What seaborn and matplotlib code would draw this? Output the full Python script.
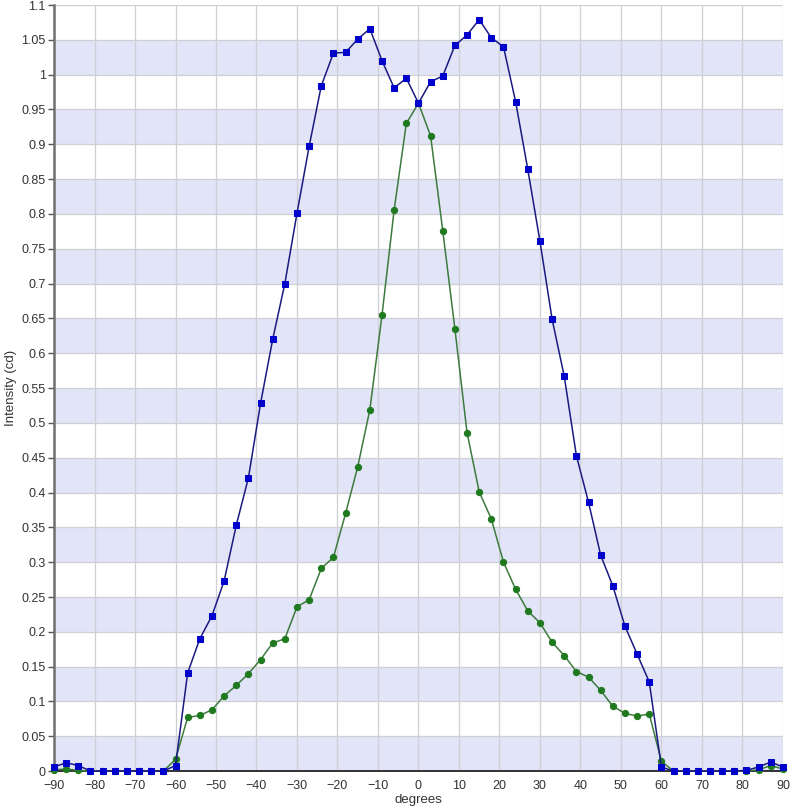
import numpy as np
import pandas as pd
import seaborn as sns
import matplotlib.pyplot as plt

sns.set_style("white")
plt.rcParams['font.family'] = ['Liberation Sans', 'DejaVu Sans']

# angles in degrees, 3 degree steps
degrees = list(range(-90, 91, 3))

blue_vals = [0.006, 0.012, 0.008, 0, 0, 0, 0, 0, 0, 0,
             0.008, 0.141, 0.190, 0.223, 0.273, 0.353, 0.421, 0.528, 0.620, 0.700,
             0.801, 0.897, 0.984, 1.031, 1.032, 1.051, 1.066, 1.020, 0.981, 0.995,
             0.959,
             0.990, 0.998, 1.042, 1.057, 1.079, 1.053, 1.040, 0.961, 0.864, 0.761,
             0.649, 0.567, 0.453, 0.386, 0.310, 0.266, 0.208, 0.168, 0.128, 0.006,
             0, 0, 0, 0, 0, 0, 0.001, 0.006, 0.013, 0.006]

green_vals = [0.002, 0.003, 0.001, 0, 0, 0, 0, 0, 0, 0,
              0.017, 0.077, 0.080, 0.088, 0.108, 0.123, 0.140, 0.160, 0.184, 0.190,
              0.236, 0.246, 0.291, 0.307, 0.370, 0.437, 0.519, 0.655, 0.806, 0.930,
              0.959,
              0.912, 0.776, 0.635, 0.486, 0.401, 0.362, 0.300, 0.261, 0.230, 0.213,
              0.185, 0.166, 0.143, 0.135, 0.116, 0.093, 0.083, 0.079, 0.082, 0.014,
              0, 0, 0, 0, 0, 0, 0, 0.002, 0.008, 0.003]

df = pd.DataFrame({"degrees": degrees, "blue": blue_vals, "green": green_vals})

fig = plt.figure(figsize=(7.9, 8.1), dpi=100)
ax = fig.add_axes([0.0684, 0.048, 0.9226, 0.9458])

# alternating background bands
for y0 in np.arange(0, 1.1, 0.1):
    ax.axhspan(y0, y0 + 0.05, color="#e2e4f8", zorder=0, lw=0)

sns.lineplot(data=df, x="degrees", y="green", ax=ax, color="#3d7a3d", lw=1.1,
             marker="o", markersize=4.5, markerfacecolor="#1f7a1f",
             markeredgecolor="#1f7a1f", zorder=3, clip_on=False)
sns.lineplot(data=df, x="degrees", y="blue", ax=ax, color="#1a1a80", lw=1.1,
             marker="s", markersize=5, markerfacecolor="#0000cc",
             markeredgecolor="#0000cc", zorder=4, clip_on=False)

ax.set_xlim(-90, 90)
ax.set_ylim(0, 1.1)
ax.set_xticks(range(-90, 91, 10))
yt = np.round(np.arange(0, 1.101, 0.05), 2)
ax.set_yticks(yt)
ax.set_yticklabels([f"{v:g}" for v in yt])
ax.grid(True, color="#cfcfd6", lw=0.9, zorder=1)
ax.set_axisbelow(True)

for s in ["top", "right"]:
    ax.spines[s].set_visible(False)
ax.spines["left"].set_color("#707070")
ax.spines["left"].set_linewidth(1.8)
ax.spines["bottom"].set_color("#111111")
ax.spines["bottom"].set_linewidth(1.2)

ax.tick_params(axis="y", left=True, length=4, width=1, color="#555555",
               labelsize=9, labelcolor="#333333", pad=2)
ax.tick_params(axis="x", bottom=False, labelsize=9, labelcolor="#333333", pad=3)

ax.set_xlabel("degrees", fontsize=9.5, color="#333333", labelpad=1)
ax.set_ylabel("Intensity (cd)", fontsize=9.5, color="#333333", labelpad=3)

fig.savefig("out.png", dpi=100)
